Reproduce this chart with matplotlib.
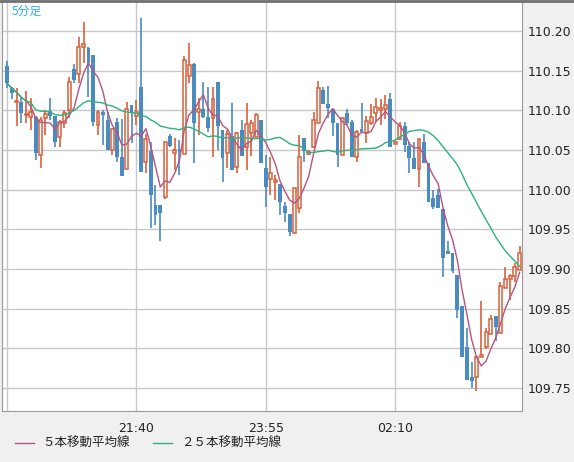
import numpy as np
import pandas as pd
import matplotlib.pyplot as plt

plt.rcParams['font.family'] = ['Noto Sans CJK JP', 'DejaVu Sans']

# 5-minute bars, one row per candle
opens = [110.156, 110.128, 110.110, 110.110, 110.094, 110.092, 110.092, 110.044, 110.090, 110.099,
         110.093, 110.066, 110.084, 110.100, 110.152, 110.146, 110.180, 110.178, 110.170, 110.081,
         110.098, 110.088, 110.050, 110.085, 110.041, 110.026, 110.107, 110.093, 110.129, 110.035,
         110.049, 109.981, 109.981, 109.991, 110.068, 110.046, 110.051, 110.045, 110.143, 110.158,
         110.098, 110.102, 110.092, 110.090, 110.136, 110.075, 110.046, 110.067, 110.028, 110.075,
         110.054, 110.071, 110.066, 110.088, 110.027, 110.013, 110.010, 110.007, 109.979, 109.969,
         109.945, 109.977, 110.065, 110.045, 110.054, 110.084, 110.126, 110.108, 110.102, 110.084,
         110.044, 110.097, 110.085, 110.041, 110.077, 110.071, 110.084, 110.097, 110.101, 110.102,
         110.114, 110.058, 110.064, 110.080, 110.055, 110.040, 110.026, 110.060, 110.034, 109.990,
         109.993, 109.975, 109.923, 109.920, 109.892, 109.853, 109.801, 109.764, 109.764, 109.789,
         109.802, 109.818, 109.841, 109.819, 109.876, 109.887, 109.891, 109.899]
highs = [110.162, 110.130, 110.128, 110.115, 110.124, 110.115, 110.093, 110.092, 110.100, 110.115,
         110.093, 110.088, 110.101, 110.142, 110.158, 110.192, 110.211, 110.180, 110.170, 110.100,
         110.100, 110.098, 110.078, 110.090, 110.089, 110.110, 110.107, 110.113, 110.216, 110.070,
         110.060, 110.006, 109.981, 110.060, 110.070, 110.065, 110.063, 110.168, 110.185, 110.160,
         110.115, 110.136, 110.129, 110.129, 110.136, 110.075, 110.075, 110.109, 110.073, 110.088,
         110.109, 110.088, 110.096, 110.088, 110.044, 110.041, 110.018, 110.007, 109.984, 109.969,
         110.002, 110.069, 110.065, 110.050, 110.098, 110.137, 110.130, 110.131, 110.102, 110.084,
         110.092, 110.102, 110.088, 110.075, 110.109, 110.093, 110.108, 110.115, 110.114, 110.119,
         110.122, 110.061, 110.085, 110.085, 110.060, 110.060, 110.064, 110.070, 110.034, 110.000,
         110.001, 109.975, 109.935, 109.920, 109.892, 109.853, 109.826, 109.783, 109.790, 109.860,
         109.825, 109.842, 109.841, 109.883, 109.902, 109.894, 109.907, 109.929]
lows = [110.128, 110.114, 110.080, 110.084, 110.084, 110.075, 110.037, 110.027, 110.069, 110.088,
        110.054, 110.054, 110.078, 110.090, 110.134, 110.135, 110.160, 110.117, 110.080, 110.069,
        110.056, 110.050, 110.044, 110.035, 110.017, 110.026, 110.059, 110.081, 110.022, 110.021,
        109.952, 109.955, 109.935, 109.988, 110.054, 110.025, 110.018, 110.045, 110.134, 110.034,
        110.069, 110.090, 110.073, 110.041, 110.050, 110.009, 110.027, 110.025, 110.021, 110.042,
        110.025, 110.042, 110.066, 110.033, 109.978, 109.993, 109.987, 109.968, 109.959, 109.941,
        109.945, 109.970, 110.035, 110.044, 110.052, 110.084, 110.108, 110.090, 110.068, 110.028,
        110.044, 110.082, 110.041, 110.035, 110.071, 110.059, 110.081, 110.085, 110.081, 110.089,
        110.054, 110.057, 110.062, 110.048, 110.021, 110.026, 110.003, 110.034, 109.984, 109.975,
        109.977, 109.890, 109.919, 109.895, 109.838, 109.789, 109.760, 109.750, 109.746, 109.789,
        109.799, 109.818, 109.809, 109.819, 109.876, 109.861, 109.883, 109.899]
closes = [110.134, 110.122, 110.112, 110.097, 110.095, 110.098, 110.046, 110.088, 110.095, 110.093,
          110.060, 110.085, 110.096, 110.136, 110.138, 110.180, 110.184, 110.160, 110.085, 110.098,
          110.094, 110.050, 110.077, 110.041, 110.017, 110.102, 110.098, 110.098, 110.022, 110.064,
          109.993, 109.968, 109.970, 110.060, 110.055, 110.050, 110.047, 110.163, 110.157, 110.084,
          110.102, 110.092, 110.078, 110.114, 110.080, 110.040, 110.070, 110.025, 110.071, 110.042,
          110.083, 110.084, 110.094, 110.033, 110.003, 110.021, 110.012, 109.984, 109.970, 109.947,
          110.002, 110.041, 110.049, 110.047, 110.088, 110.128, 110.108, 110.103, 110.084, 110.044,
          110.090, 110.084, 110.041, 110.073, 110.073, 110.087, 110.092, 110.104, 110.102, 110.107,
          110.054, 110.060, 110.080, 110.056, 110.040, 110.026, 110.064, 110.034, 109.984, 109.978,
          109.977, 109.914, 109.919, 109.897, 109.848, 109.789, 109.760, 109.759, 109.789, 109.791,
          109.820, 109.837, 109.827, 109.878, 109.887, 109.891, 109.902, 109.920]

yticks = [109.75, 109.80, 109.85, 109.90, 109.95, 110.00, 110.05, 110.10, 110.15, 110.20]
xtick_pos = [27, 54, 81]
xtick_labels = ["21:40", "23:55", "02:10"]

UP = "#d9603b"
DOWN = "#4a8bc2"
MA5_C = "#b5557f"
MA25_C = "#2db37a"

df = pd.DataFrame({"open": opens, "high": highs, "low": lows, "close": closes})
ma5 = df["close"].rolling(5, min_periods=1).mean()
ma25 = df["close"].rolling(25, min_periods=1).mean()
idx = np.arange(len(df))

fig = plt.figure(figsize=(5.74, 4.62), dpi=100, facecolor="#f0f0f0")
ax = fig.add_axes([2 / 574, 51 / 462, 520 / 574, 409 / 462])
ax.set_facecolor("white")

up = df["close"] >= df["open"]
ax.vlines(idx[up], df["low"][up], df["high"][up], color=UP, lw=1.2, zorder=2)
ax.vlines(idx[~up], df["low"][~up], df["high"][~up], color=DOWN, lw=1.2, zorder=2)
body = (df["close"] - df["open"]).abs().clip(lower=0.0015)
bottom = df[["open", "close"]].min(axis=1)
ax.bar(idx[up], body[up], bottom=bottom[up], width=0.62, facecolor="white",
       edgecolor=UP, lw=1.1, zorder=3)
ax.bar(idx[~up], body[~up], bottom=bottom[~up], width=0.8, color=DOWN, lw=0, zorder=3)

ax.plot(idx, ma5, color=MA5_C, lw=1, zorder=4)
ax.plot(idx, ma25, color=MA25_C, lw=1, zorder=4)

ax.set_xlim(-1.04, 107.5)
ax.set_ylim(109.7208, 110.2366)
ax.yaxis.tick_right()
ax.set_yticks(yticks)
ax.set_yticklabels([f"{v:.2f}" for v in yticks], fontsize=9, family="DejaVu Sans")
ax.set_xticks(xtick_pos)
ax.set_xticklabels(xtick_labels, fontsize=9, family="DejaVu Sans")
ax.tick_params(length=0, pad=4, colors="#222222")
ax.tick_params(axis="x", pad=8)
for g in [0, 27, 54, 81]:
    ax.axvline(g, color="#c8c8c8", lw=1, zorder=1)
for v in yticks:
    ax.axhline(v, color="#c8c8c8", lw=1, zorder=1)
ax.spines["top"].set_visible(False)
for s in ["left", "bottom", "right"]:
    ax.spines[s].set_color("#999999")

fig.add_artist(plt.Line2D([0, 1], [1 - 1 / 462, 1 - 1 / 462], color="#707070", lw=2))
fig.text(12 / 574, 1 - 11 / 462, "5分足", color="#33aaee", fontsize=8.5, va="center")

# legend
ly = 1 - 443 / 462
fig.add_artist(plt.Line2D([15 / 574, 34 / 574], [ly, ly], color=MA5_C, lw=1))
fig.text(42 / 574, ly, "５本移動平均線", fontsize=9, va="center", color="#222222")
fig.add_artist(plt.Line2D([153 / 574, 172 / 574], [ly, ly], color=MA25_C, lw=1))
fig.text(181 / 574, ly, "２５本移動平均線", fontsize=9, va="center", color="#222222")

fig.savefig("out.png", dpi=100, facecolor=fig.get_facecolor())
